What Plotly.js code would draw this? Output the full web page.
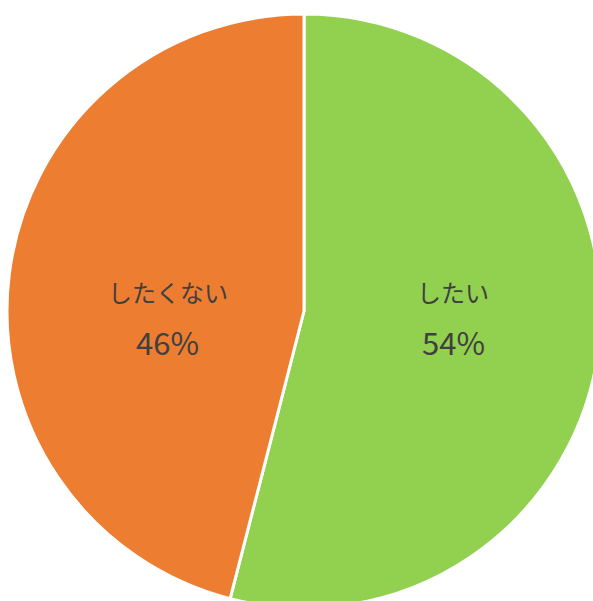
<!DOCTYPE html>
<html>
<head>
<meta charset="utf-8">
<script src="https://cdn.plot.ly/plotly-3.0.1.min.js"></script>
<style>
html,body{margin:0;padding:0;width:593px;height:601px;overflow:hidden;background:#fff;}
#chart{position:absolute;left:7px;top:14px;width:594px;height:594px;}
</style>
</head>
<body>
<div id="chart"></div>
<script>
const labels = ["したい", "したくない"];
const values = [54, 46];
const colors = ["#92D050", "#ED7D31"];
const labelPosX = [0.751, 0.271];

const total = values.reduce((a, b) => a + b, 0);
const annotations = [];
labels.forEach((lab, i) => {
  const pct = Math.round(values[i] / total * 100) + "%";
  annotations.push({text: lab, x: labelPosX[i], y: 0.533, xref: "paper", yref: "paper",
    showarrow: false, xanchor: "center", yanchor: "middle",
    font: {family: "Noto Sans CJK JP, sans-serif", size: 24, color: "#404040"}});
  annotations.push({text: pct, x: labelPosX[i], y: 0.449, xref: "paper", yref: "paper",
    showarrow: false, xanchor: "center", yanchor: "middle",
    font: {family: "Noto Sans CJK JP, sans-serif", size: 31, color: "#404040"}});
});

Plotly.newPlot("chart", [{
  type: "pie",
  labels: labels,
  values: values,
  sort: false,
  direction: "clockwise",
  rotation: 0,
  marker: {colors: colors, line: {color: "#ffffff", width: 3}},
  textinfo: "none",
  hoverinfo: "label+percent",
  domain: {x: [0, 1], y: [0, 1]}
}], {
  width: 594, height: 594,
  margin: {l: 0, r: 0, t: 0, b: 0, pad: 0},
  showlegend: false,
  paper_bgcolor: "rgba(0,0,0,0)",
  annotations: annotations
}, {staticPlot: true});
</script>
</body>
</html>
